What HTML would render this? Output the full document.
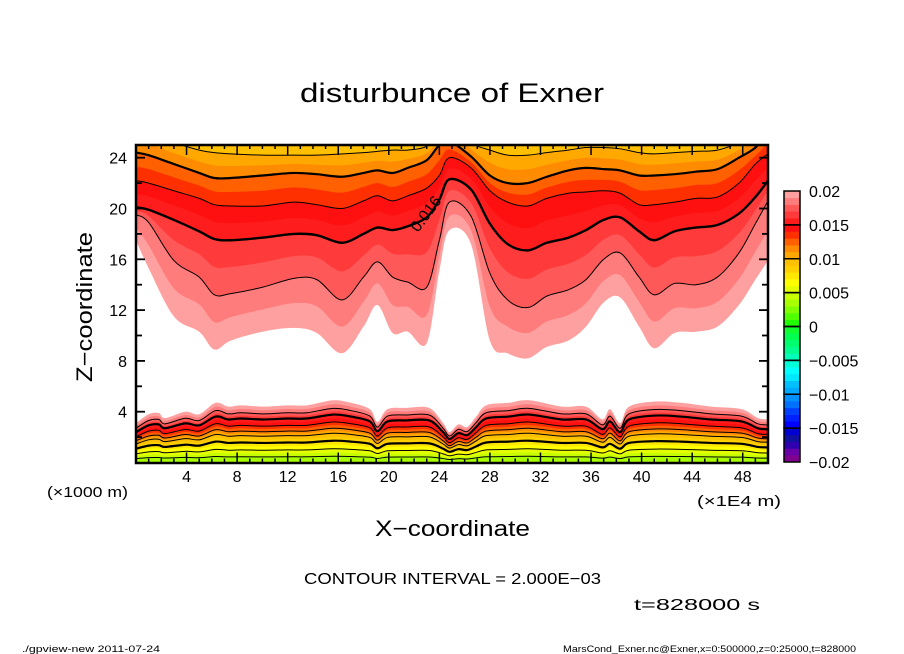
<!DOCTYPE html>
<html><head><meta charset="utf-8"><style>
html,body{margin:0;padding:0;background:#fff;}
svg{display:block;font-family:"Liberation Sans","DejaVu Sans",sans-serif;}
</style></head><body>
<svg id="chart" width="904" height="654" viewBox="0 0 904 654" xmlns="http://www.w3.org/2000/svg">
<defs><clipPath id="plotclip"><rect x="136" y="145" width="632" height="318"/></clipPath></defs>
<rect x="0" y="0" width="904" height="654" fill="#fff"/>
<text x="300" y="102" font-size="27" textLength="304" lengthAdjust="spacingAndGlyphs">disturbunce of Exner</text>
<g id="field" clip-path="url(#plotclip)"></g>
<g id="lines" clip-path="url(#plotclip)"></g>
<text x="0" y="0" font-size="16" transform="translate(418,233) rotate(-53)">0.016</text>
<g id="axes"></g>
<rect x="136" y="145" width="632" height="318" fill="none" stroke="#000" stroke-width="2.5"/>
<text font-size="22" textLength="150" lengthAdjust="spacingAndGlyphs" transform="translate(92,382) rotate(-90)">Z−coordinate</text>
<text x="375" y="536" font-size="22" textLength="155" lengthAdjust="spacingAndGlyphs">X−coordinate</text>
<text x="47" y="497" font-size="15" textLength="81" lengthAdjust="spacingAndGlyphs">(×1000 m)</text>
<text x="697" y="506" font-size="15" textLength="84" lengthAdjust="spacingAndGlyphs">(×1E4 m)</text>
<text x="304" y="584" font-size="16" textLength="297" lengthAdjust="spacingAndGlyphs">CONTOUR INTERVAL = 2.000E−03</text>
<text x="634" y="610" font-size="16" textLength="126" lengthAdjust="spacingAndGlyphs">t=828000 s</text>
<text x="22" y="652" font-size="9" textLength="138" lengthAdjust="spacingAndGlyphs">./gpview-new   2011-07-24</text>
<text x="563" y="652" font-size="9" textLength="293" lengthAdjust="spacingAndGlyphs">MarsCond_Exner.nc@Exner,x=0:500000,z=0:25000,t=828000</text>
<g id="cbar"></g>
</svg>
<script>
// ---- data ----
const upX = [0,1,3,5,6.2,7.5,10,12.5,14.3,16.3,18,19.1,20.3,21.5,23,24,24.8,26.5,28,29.4,31,32.5,34.2,35.6,37,38.3,39.8,41,42.6,44.3,46,47.7,49,50];
const up020 = [17.5,15.3,11.5,10.3,8.9,9.6,10.3,10.6,10.2,8.6,10.7,12.4,10.2,10.3,9.4,15.1,18.3,17.2,9.6,8.6,8.2,9.1,9.6,10.7,12.6,13.0,10.7,9.0,10.2,10.3,10.7,12.4,14.4,15.9];
const up018 = [19.5,18.9,15.9,14.6,13.2,13.3,13.8,14.5,14.4,12.8,14.6,15.8,14.6,14.2,13.8,17.5,20.5,19.4,14.9,12.8,12.2,13.1,13.6,14.4,16.0,16.5,14.6,13.2,14.1,14.0,14.6,16.5,18.8,20.6];
const up016 = [20.1,19.9,19.1,18.2,17.6,17.5,17.7,18.0,17.9,17.3,18.0,18.5,18.3,18.6,19.3,20.7,22.3,21.5,18.8,17.2,16.7,17.3,17.7,18.3,19.1,19.3,18.2,17.5,18.2,18.5,18.7,19.6,20.9,22.2];
const up014 = [22.2,22.0,21.4,20.8,20.3,20.2,20.2,20.5,20.3,20.0,20.6,21.0,20.6,21.0,21.6,22.6,24.0,23.2,21.4,20.5,20.2,20.8,21.2,21.3,21.4,21.2,20.3,20.3,20.5,20.8,20.9,22.0,23.5,24.3];
const up012 = [24.4,24.2,23.5,22.8,22.4,22.4,22.6,22.8,22.7,22.5,22.8,23.0,22.8,23.2,23.8,25.0,25.3,24.1,22.6,22.0,22.0,22.5,23.0,23.2,23.1,23.0,22.6,22.6,22.7,22.9,23.1,24.0,24.8,26.0];
const up010 = [26.0,26.0,25.2,24.6,24.4,24.3,24.2,24.2,24.2,24.3,24.4,24.5,24.6,24.6,24.9,26.0,27.0,25.2,24.6,24.2,24.2,24.4,24.6,24.8,24.8,24.7,24.4,24.3,24.4,24.5,24.6,25.2,26.0,27.0];
const lowX = [0,1,1.8,2.3,3.9,5,6.3,7.3,8.3,10.1,12,13.5,15.6,17,18.5,19.1,19.9,21.4,23.2,24.3,24.8,25.5,26.2,26.9,27.7,29.5,31.1,33.7,35.6,36.9,37.5,38.3,39,41.1,43.1,45.5,47.9,49.2,50];
const lowTop = [3.1,3.8,3.9,3.5,4.0,3.8,4.7,4.4,4.5,4.4,4.5,4.5,4.9,4.7,4.2,3.2,4.2,4.3,4.3,3.1,2.4,3.0,2.8,3.6,4.5,4.7,4.9,4.4,4.4,3.4,4.2,3.1,4.4,4.8,4.7,4.4,4.2,3.5,3.4];
const lowLevels = [0.004,0.006,0.008,0.010,0.012,0.014,0.016,0.018,0.020];
const lowFrac = [0.10,0.22,0.35,0.47,0.55,0.65,0.77,0.87,1.0];
const cbarTicks = [0.02,0.015,0.01,0.005,0,-0.005,-0.01,-0.015,-0.02];
const cbarTickLabels = ["0.02","0.015","0.01","0.005","0","−0.005","−0.01","−0.015","−0.02"];
const xTicks = [4,8,12,16,20,24,28,32,36,40,44,48];
const yTicks = [4,8,12,16,20,24];
// palette bins -20..19 (value*1000)
const palette = ['#800090','#6a00a8','#3000b0','#1010a0','#0000d0','#0000ff','#0020ff','#0040ff','#0070ff','#0090ff','#00a8ff','#00c0ff','#00e8ff','#00ffff','#00ffd8','#00ffb8','#00ff90','#00ff70','#00ff50','#10ff30','#20ff00','#50ff00','#80ff00','#a8ff00','#c8ff00','#e6ff00','#ffff00','#ffe800','#ffd000','#ffc000','#ffa800','#ff8c00','#ff6000','#ff3000','#ff1010','#ff1c1c','#ff3a3a','#ff5858','#ff7c7c','#ffa0a0'];

// ---- scales ----
const X0=136, X1=768, Y0=462.5, Y1=145;
const sx = x => X0 + x*(X1-X0)/50;
const sz = z => Y0 - z*(Y0-Y1)/25;
const col = bin => palette[bin+20];
const NS='http://www.w3.org/2000/svg';

function smooth(xs, zs){
  const p = xs.map((x,i)=>[sx(x), sz(zs[i])]);
  let d = 'M'+p[0][0].toFixed(2)+','+p[0][1].toFixed(2);
  for(let i=0;i<p.length-1;i++){
    const a=p[Math.max(0,i-1)], b=p[i], c=p[i+1], e=p[Math.min(p.length-1,i+2)];
    const c1=[b[0]+(c[0]-a[0])/6, b[1]+(c[1]-a[1])/6];
    const c2=[c[0]-(e[0]-b[0])/6, c[1]-(e[1]-b[1])/6];
    d+=' C'+c1[0].toFixed(2)+','+c1[1].toFixed(2)+' '+c2[0].toFixed(2)+','+c2[1].toFixed(2)+' '+c[0].toFixed(2)+','+c[1].toFixed(2);
  }
  return d;
}
const avg = (a,b)=>a.map((v,i)=>(v+b[i])/2);
const field = document.getElementById('field');
const lines = document.getElementById('lines');

function fillBelow(xs, zs, color, name){
  const p=document.createElementNS(NS,'path');
  p.setAttribute('d', smooth(xs,zs)+' L'+(sx(xs[xs.length-1])+2)+','+(Y0+3)+' L'+(sx(xs[0])-2)+','+(Y0+3)+' Z');
  p.setAttribute('fill', color);
  
  
  field.appendChild(p);
}
function line(xs, zs, w, name){
  const p=document.createElementNS(NS,'path');
  p.setAttribute('d', smooth(xs,zs));
  p.setAttribute('fill','none'); p.setAttribute('stroke','#000'); p.setAttribute('stroke-width', w);
  
  
  lines.appendChild(p);
}

// upper region: value increases downward
const base=document.createElementNS(NS,'rect');
base.setAttribute('x',X0); base.setAttribute('y',Y1); base.setAttribute('width',X1-X0); base.setAttribute('height',Y0-Y1);
base.setAttribute('fill', col(9));


field.appendChild(base);
const upEven = {10:up010,12:up012,14:up014,16:up016,18:up018,20:up020};
for(let t=10;t<=20;t++){
  const zs = upEven[t] || avg(upEven[t-1], upEven[t+1]);
  fillBelow(upX, zs, t===20 ? '#ffffff' : col(t), 'upper-band-'+t);
}
// lower region: value increases upward
const lowCurve = f => lowTop.map(v=>v*f);
for(let t=20;t>=4;t--){
  let f;
  const idx = lowLevels.findIndex(l=>Math.round(l*1000)===t);
  if(idx>=0) f = lowFrac[idx];
  else { const k = lowLevels.findIndex(l=>Math.round(l*1000)===t+1); f=(lowFrac[k]+lowFrac[k-1])/2; }
  fillBelow(lowX, lowCurve(f), col(t-1), 'lower-band-'+t);
}
// contour lines
[[10,1],[12,2.2],[14,1],[16,2.4],[18,1]].forEach(([t,w])=>line(upX, upEven[t], w, 'upper-contour-'+t));
lowLevels.forEach((l,i)=>{
  const t=Math.round(l*1000);
  if(t>=20) return;
  line(lowX, lowCurve(lowFrac[i]), (t===16||t===8)?2.2:1, 'lower-contour-'+t);
});

// axes ticks
const axes=document.getElementById('axes');
function seg(x1,y1,x2,y2,w,name){
  const l=document.createElementNS(NS,'line');
  l.setAttribute('x1',x1);l.setAttribute('y1',y1);l.setAttribute('x2',x2);l.setAttribute('y2',y2);
  l.setAttribute('stroke','#000');l.setAttribute('stroke-width',w);
  
  
  axes.appendChild(l);
}
function txt(x,y,s,size,anchor,name){
  const t=document.createElementNS(NS,'text');
  t.setAttribute('x',x);t.setAttribute('y',y);t.setAttribute('font-size',size);t.setAttribute('text-anchor',anchor);
  t.textContent=s;
  
  
  axes.appendChild(t);
}
for(let x=1;x<50;x++){
  const major = x%4===0, L = major?10:4;
  seg(sx(x),Y0,sx(x),Y0-L,1.5,'x-tick-bottom');
  seg(sx(x),Y1,sx(x),Y1+L,1.5,'x-tick-top');
}
for(let z=2;z<25;z+=2){
  const L = z%4===0?9:6;
  seg(X0,sz(z),X0+L,sz(z),1.8,'y-tick-left');
  seg(X1,sz(z),X1-L,sz(z),1.8,'y-tick-right');
}
xTicks.forEach(x=>txt(sx(x),482,String(x),16,'middle','x-tick-label'));
yTicks.forEach(z=>txt(127,sz(z)+6,String(z),16,'end','y-tick-label'));

// colorbar
const cb=document.getElementById('cbar');
const CBX=784, CBW=16, CBT=191, CBB=462;
const cbY = v => CBT + (0.02 - v)*(CBB-CBT)/0.04;
for(let b=-20;b<20;b++){
  const r=document.createElementNS(NS,'rect');
  r.setAttribute('x',CBX); r.setAttribute('y',cbY((b+1)/1000)); r.setAttribute('width',CBW); r.setAttribute('height',(CBB-CBT)/40+0.3);
  r.setAttribute('fill',col(b));
  
  
  cb.appendChild(r);
}
for(let i=0;i<cbarTicks.length-1;i++){
  const r=document.createElementNS(NS,'rect');
  r.setAttribute('x',CBX); r.setAttribute('y',cbY(cbarTicks[i])); r.setAttribute('width',CBW); r.setAttribute('height',cbY(cbarTicks[i+1])-cbY(cbarTicks[i]));
  r.setAttribute('fill','none'); r.setAttribute('stroke','#000'); r.setAttribute('stroke-width','1.5');
  
  
  cb.appendChild(r);
}
cbarTicks.forEach((v,i)=>{
  const t=document.createElementNS(NS,'text');
  t.setAttribute('x',809); t.setAttribute('y',cbY(v)+6); t.setAttribute('font-size',16);
  t.textContent=cbarTickLabels[i];
  
  
  cb.appendChild(t);
});
</script>
</body></html>
